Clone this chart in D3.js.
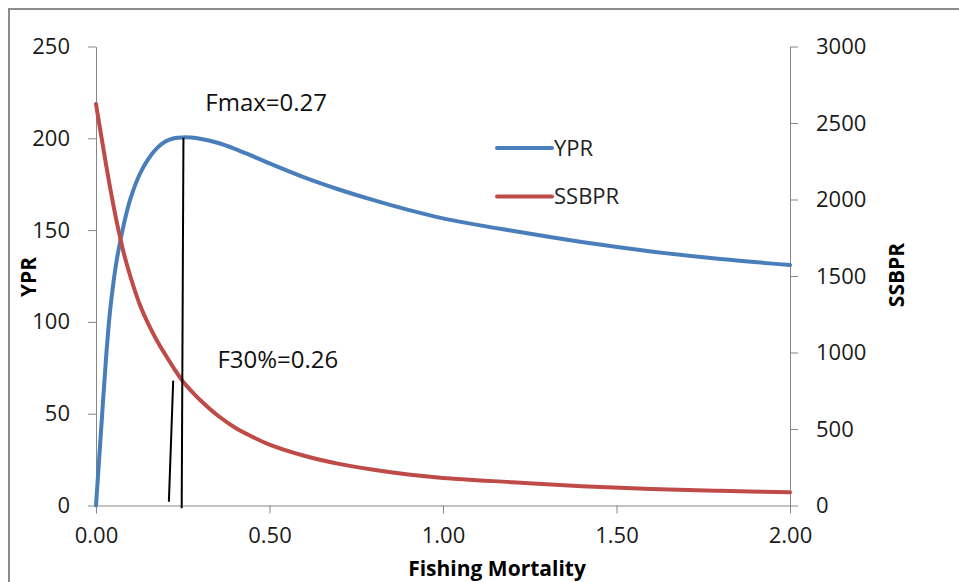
<!DOCTYPE html>
<html>
<head>
<meta charset="utf-8">
<script src="https://cdn.jsdelivr.net/npm/d3@7"></script>
<style>
  body { margin: 0; background: #fff; }
  svg { display: block; font-family: "Open Sans", sans-serif; }
</style>
</head>
<body>
<div id="chart"></div>
<script>
// ---------- data ----------
const fishingF = [0, 0.01, 0.02, 0.03, 0.04, 0.05, 0.06, 0.08, 0.10, 0.125, 0.15, 0.175, 0.2, 0.225,
  0.25, 0.275, 0.3, 0.35, 0.4, 0.45, 0.5, 0.6, 0.7, 0.8, 0.9, 1.0, 1.2, 1.4, 1.6, 1.8, 2.0];
const ypr = [0, 28, 56, 83, 105, 121, 134, 153, 167.5, 180, 188.5, 194.5, 198.2, 200,
  200.5, 200.4, 199.8, 197.6, 194.3, 190.4, 186.3, 178.7, 172.1, 166.3, 161.0, 156.4, 149.6, 143.5, 138.4, 134.3, 131];
const ssbpr = [2624, 2485, 2350, 2215, 2085, 1965, 1850, 1650, 1490, 1320, 1190, 1080, 985, 895,
  812, 748, 690, 590, 510, 450, 398, 325, 272, 233, 202, 180, 152, 126, 108, 96, 86];

const xTicks = [0, 0.5, 1.0, 1.5, 2.0];
const yLeftTicks = [0, 50, 100, 150, 200, 250];
const yRightTicks = [0, 500, 1000, 1500, 2000, 2500, 3000];

// annotation lines, in (F, YPR) units
const fmaxLine = [[0.252, 200.3], [0.247, -1.5]];
const f30Line = [[0.2225, 68], [0.210, 2]];
const notes = [
  { text: "Fmax=0.27", f: 0.315, y: 215 },
  { text: "F30%=0.26", f: 0.35, y: 75 }
];

const series = [
  { name: "YPR", values: ypr, color: "#4a7ebb", axis: "left" },
  { name: "SSBPR", values: ssbpr, color: "#be4b48", axis: "right" }
];

// ---------- svg ----------
const width = 959, height = 582;
const margin = { top: 46.5, right: 169, bottom: 76.5, left: 96 };

const svg = d3.select("#chart").append("svg")
  .attr("width", width)
  .attr("height", height);

// chart frame
svg.append("rect")
  .attr("x", 9).attr("y", 9)
  .attr("width", 980).attr("height", 600)
  .attr("fill", "#fff")
  .attr("stroke", "#8c8c8c")
  .attr("stroke-width", 2);

const x = d3.scaleLinear().domain([0, 2]).range([margin.left, width - margin.right]);
const yL = d3.scaleLinear().domain([0, 250]).range([height - margin.bottom, margin.top]);
const yR = d3.scaleLinear().domain([0, 3000]).range([height - margin.bottom, margin.top]);

// axes
const axisColor = "#868686";
function styleAxis(g) {
  g.selectAll("path, line").attr("stroke", axisColor);
  g.selectAll("text").attr("fill", "#1a1a1a").style("font-size", "22px").style("font-family", "Open Sans, sans-serif");
}

svg.append("g")
  .attr("transform", `translate(0,${yL(0)})`)
  .call(d3.axisBottom(x).tickValues(xTicks).tickFormat(d3.format(".2f")).tickSize(8).tickSizeOuter(0).tickPadding(14))
  .call(styleAxis);

svg.append("g")
  .attr("transform", `translate(${x(0)},0)`)
  .call(d3.axisLeft(yL).tickValues(yLeftTicks).tickFormat(d3.format("d")).tickSize(8).tickSizeOuter(0).tickPadding(18))
  .call(styleAxis);

svg.append("g")
  .attr("transform", `translate(${x(2)},0)`)
  .call(d3.axisRight(yR).tickValues(yRightTicks).tickFormat(d3.format("d")).tickSize(8).tickSizeOuter(0).tickPadding(18))
  .call(styleAxis);

// axis titles
svg.append("text")
  .attr("x", 497).attr("y", 576)
  .attr("text-anchor", "middle")
  .style("font-size", "21px").style("font-weight", "bold")
  .text("Fishing Mortality");

svg.append("text")
  .attr("transform", "translate(36,277) rotate(-90)")
  .attr("text-anchor", "middle")
  .style("font-size", "21px").style("font-weight", "bold")
  .text("YPR");

svg.append("text")
  .attr("transform", "translate(904,275) rotate(-90)")
  .attr("text-anchor", "middle")
  .style("font-size", "21px").style("font-weight", "bold")
  .text("SSBPR");

// lines
series.forEach(s => {
  const yS = s.axis === "left" ? yL : yR;
  const line = d3.line()
    .x((d, i) => x(fishingF[i]))
    .y(d => yS(d))
    .curve(d3.curveCatmullRom.alpha(0.5));
  svg.append("path")
    .datum(s.values)
    .attr("d", line)
    .attr("fill", "none")
    .attr("stroke", s.color)
    .attr("stroke-width", 4)
    .attr("stroke-linecap", "round")
    .attr("stroke-linejoin", "round");
});

// annotation lines
const annLine = d3.line().x(d => x(d[0])).y(d => yL(d[1]));
[fmaxLine, f30Line].forEach(l => {
  svg.append("path")
    .attr("d", annLine(l))
    .attr("stroke", "#000")
    .attr("stroke-width", 2)
    .attr("fill", "none");
});

svg.selectAll(".note")
  .data(notes)
  .enter()
  .append("text")
  .attr("class", "note")
  .attr("x", d => x(d.f))
  .attr("y", d => yL(d.y))
  .style("font-size", "24px")
  .attr("fill", "#111")
  .text(d => d.text);

// legend
const legend = svg.append("g").attr("transform", "translate(497,148)");
series.forEach((s, i) => {
  const g = legend.append("g").attr("transform", `translate(0,${i * 48.5})`);
  g.append("line")
    .attr("x1", 0).attr("x2", 55)
    .attr("stroke", s.color).attr("stroke-width", 4)
    .attr("stroke-linecap", "round");
  g.append("text")
    .attr("x", 57).attr("y", 0)
    .attr("dy", "0.35em")
    .style("font-size", "22px")
    .attr("fill", "#222")
    .text(s.name);
});
</script>
</body>
</html>
